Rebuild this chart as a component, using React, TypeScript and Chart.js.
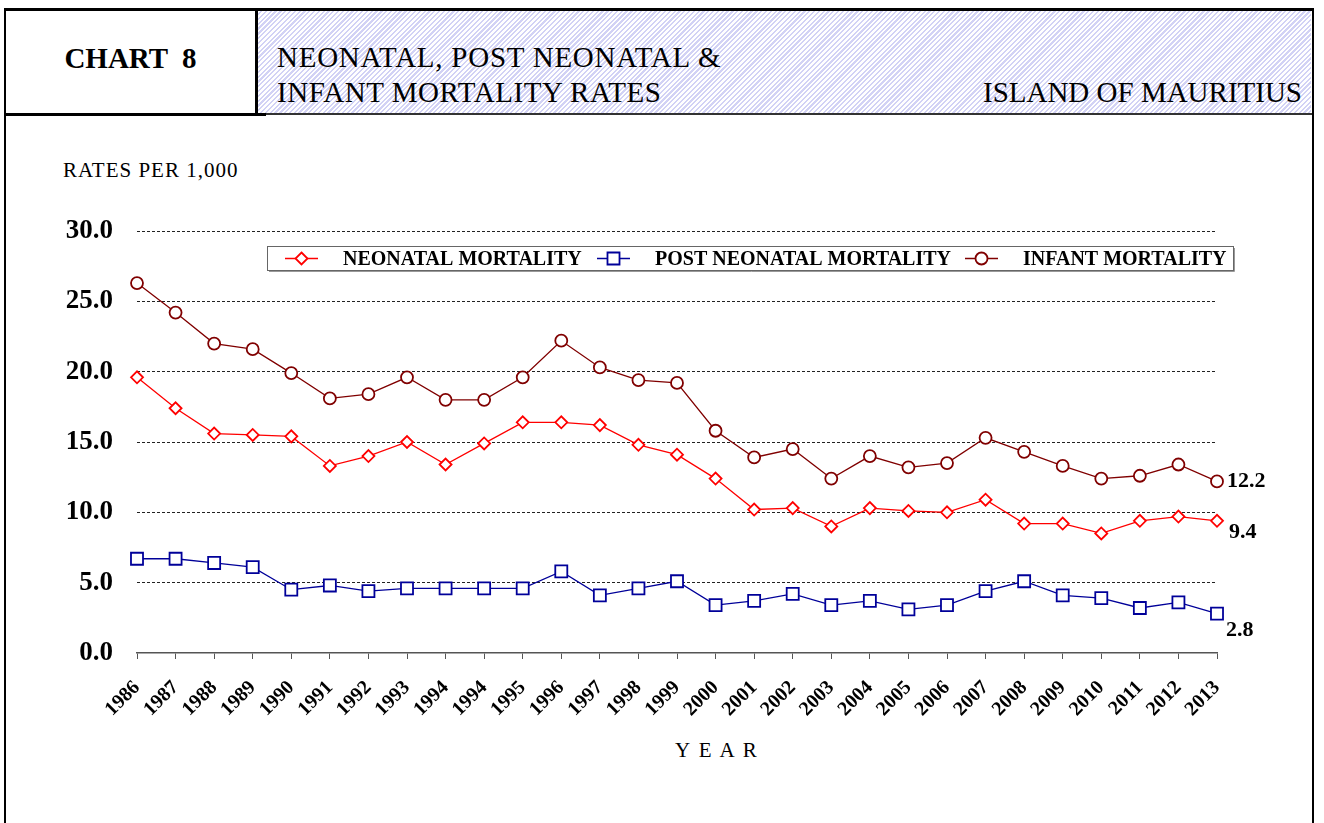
import React, { useEffect, useRef } from 'react';
import { Chart, registerables } from 'chart.js';

Chart.register(...registerables);

const years = [
  '1986', '1987', '1988', '1989', '1990', '1991', '1992', '1993', '1994', '1994',
  '1995', '1996', '1997', '1998', '1999', '2000', '2001', '2002', '2003', '2004',
  '2005', '2006', '2007', '2008', '2009', '2010', '2011', '2012', '2013',
];

const neonatal = [
  19.6, 17.4, 15.6, 15.5, 15.4, 13.3, 14.0, 15.0, 13.4, 14.9,
  16.4, 16.4, 16.2, 14.8, 14.1, 12.4, 10.2, 10.3, 9.0, 10.3,
  10.1, 10.0, 10.9, 9.2, 9.2, 8.5, 9.4, 9.7, 9.4,
];

const postNeonatal = [
  6.7, 6.7, 6.4, 6.1, 4.5, 4.8, 4.4, 4.6, 4.6, 4.6,
  4.6, 5.8, 4.1, 4.6, 5.1, 3.4, 3.7, 4.2, 3.4, 3.7,
  3.1, 3.4, 4.4, 5.1, 4.1, 3.9, 3.2, 3.6, 2.8,
];

const infant = [
  26.3, 24.2, 22.0, 21.6, 19.9, 18.1, 18.4, 19.6, 18.0, 18.0,
  19.6, 22.2, 20.3, 19.4, 19.2, 15.8, 13.9, 14.5, 12.4, 14.0,
  13.2, 13.5, 15.3, 14.3, 13.3, 12.4, 12.6, 13.4, 12.2,
];

const seriesLabels = ['NEONATAL MORTALITY', 'POST NEONATAL MORTALITY', 'INFANT MORTALITY'];
const yMin = 0;
const yMax = 30;
const yStep = 5;

const SERIF = '"Liberation Serif", "Times New Roman", serif';

function drawMarker(ctx: CanvasRenderingContext2D, style: string, x: number, y: number, r: number) {
  ctx.beginPath();
  if (style === 'circle') {
    ctx.arc(x, y, r, 0, Math.PI * 2);
  } else if (style === 'rect') {
    const s = r * Math.SQRT1_2;
    ctx.rect(x - s, y - s, 2 * s, 2 * s);
  } else {
    ctx.moveTo(x, y - r);
    ctx.lineTo(x + r, y);
    ctx.lineTo(x, y + r);
    ctx.lineTo(x - r, y);
    ctx.closePath();
  }
  ctx.fillStyle = '#fff';
  ctx.fill();
  ctx.stroke();
}

const boxLegend = {
  id: 'boxLegend',
  afterDraw(chart: any) {
    const ctx: CanvasRenderingContext2D = chart.ctx;
    const left = 267, right = 1233, top = 130, h = 24;
    const starts = [285, 597, 965];
    ctx.save();
    ctx.fillStyle = '#fff';
    ctx.fillRect(left, top, right - left, h);
    ctx.strokeStyle = '#666';
    ctx.lineWidth = 1;
    ctx.strokeRect(left + 0.5, top + 0.5, right - left, h);
    ctx.strokeStyle = '#999';
    ctx.beginPath();
    ctx.moveTo(left + 2, top + h + 1.5);
    ctx.lineTo(right + 1.5, top + h + 1.5);
    ctx.lineTo(right + 1.5, top + 2);
    ctx.stroke();
    const cy = top + h / 2 + 0.5;
    chart.data.datasets.forEach((ds: any, i: number) => {
      const x0 = starts[i];
      ctx.strokeStyle = ds.borderColor;
      ctx.lineWidth = ds.borderWidth;
      ctx.beginPath();
      ctx.moveTo(x0, cy);
      ctx.lineTo(x0 + 33, cy);
      ctx.stroke();
      ctx.lineWidth = ds.pointBorderWidth;
      drawMarker(ctx, ds.pointStyle, x0 + 16.5, cy, ds.pointRadius);
      ctx.fillStyle = '#000';
      ctx.font = `bold 20px ${SERIF}`;
      ctx.textAlign = 'left';
      ctx.textBaseline = 'middle';
      ctx.fillText(ds.label, x0 + 58, cy + 1);
    });
    ctx.restore();
  },
};

const endLabels = {
  id: 'endLabels',
  afterDatasetsDraw(chart: any) {
    const ctx: CanvasRenderingContext2D = chart.ctx;
    const offsets = [[12, 12], [9, 17], [10, 0]];
    ctx.save();
    ctx.fillStyle = '#000';
    ctx.font = `bold 22px ${SERIF}`;
    ctx.textAlign = 'left';
    ctx.textBaseline = 'middle';
    chart.data.datasets.forEach((ds: any, i: number) => {
      const meta = chart.getDatasetMeta(i);
      const pt = meta.data[meta.data.length - 1];
      const v = ds.data[ds.data.length - 1];
      ctx.fillText(v.toFixed(1), pt.x + offsets[i][0], pt.y + offsets[i][1]);
    });
    ctx.restore();
  },
};

function MortalityChart() {
  const ref = useRef<HTMLCanvasElement | null>(null);
  useEffect(() => {
    if (!ref.current) return;
    const chart = new Chart(ref.current, {
      type: 'line',
      data: {
        labels: years,
        datasets: [
          {
            label: seriesLabels[0],
            data: neonatal,
            borderColor: '#ff0000',
            borderWidth: 1.3,
            pointStyle: 'rectRot',
            pointRadius: 6,
            pointBorderWidth: 1.8,
            pointBackgroundColor: '#fff',
            pointBorderColor: '#ff0000',
            tension: 0,
          },
          {
            label: seriesLabels[1],
            data: postNeonatal,
            borderColor: '#000099',
            borderWidth: 1.3,
            pointStyle: 'rect',
            pointRadius: 8.5,
            pointBorderWidth: 1.8,
            pointBackgroundColor: '#fff',
            pointBorderColor: '#000099',
            tension: 0,
          },
          {
            label: seriesLabels[2],
            data: infant,
            borderColor: '#800000',
            borderWidth: 1.3,
            pointStyle: 'circle',
            pointRadius: 6,
            pointBorderWidth: 1.8,
            pointBackgroundColor: '#fff',
            pointBorderColor: '#800000',
            tension: 0,
          },
        ],
      },
      options: {
        responsive: false,
        animation: false,
        events: [],
        layout: { padding: { left: 0, right: 107, top: 115, bottom: 0 } },
        plugins: {
          legend: { display: false },
          tooltip: { enabled: false },
        },
        scales: {
          x: {
            type: 'category',
            offset: false,
            grid: {
              display: true,
              drawOnChartArea: false,
              drawTicks: true,
              tickLength: 6,
              color: '#555',
              lineWidth: 1,
            },
            border: { display: true, color: '#555', width: 1.5 },
            ticks: {
              autoSkip: false,
              maxRotation: 45,
              minRotation: 45,
              color: '#000',
              padding: 17,
              font: { family: SERIF, size: 20, weight: 'bold' },
            },
            afterFit: (s: any) => {
              s.height = 170;
              s.paddingLeft = 0;
              s.paddingRight = 0;
            },
          },
          y: {
            min: yMin,
            max: yMax,
            ticks: {
              stepSize: yStep,
              color: '#000',
              padding: 24,
              font: { family: SERIF, size: 27, weight: 'bold' },
              callback: (v: any) => Number(v).toFixed(1),
            },
            grid: {
              drawTicks: false,
              color: (c: any) => (c.tick && c.tick.value === 0 ? 'rgba(0,0,0,0)' : '#222'),
              lineWidth: 1,
            },
            border: { display: false, dash: [3, 2] },
            afterFit: (s: any) => {
              s.width = 137;
              s.paddingTop = 0;
              s.paddingBottom = 0;
            },
          },
        },
      },
      plugins: [endLabels, boxLegend],
    } as any);
    return () => chart.destroy();
  }, []);
  return (
    <canvas
      ref={ref}
      width={1324}
      height={707}
      style={{ position: 'absolute', left: 0, top: 116, width: 1324, height: 707 }}
    />
  );
}

function Txt(props: { x: number; baseline: number; size: number; bold?: boolean; right?: boolean; center?: number; spacing?: number; children: any }) {
  const { x, baseline, size, bold, right, center, spacing, children } = props;
  const top = baseline - size * 0.8375;
  const style: any = {
    position: 'absolute',
    top,
    fontSize: size,
    lineHeight: `${size}px`,
    fontWeight: bold ? 'bold' : 'normal',
    whiteSpace: 'pre',
    color: '#000',
    letterSpacing: spacing ? spacing : 0,
  };
  if (right) {
    style.right = 1324 - x;
    style.textAlign = 'right';
  } else if (center !== undefined) {
    style.left = x;
    style.width = center;
    style.textAlign = 'center';
  } else {
    style.left = x;
  }
  return <div style={style}>{children}</div>;
}

export default function App() {
  return (
    <div
      style={{
        position: 'fixed',
        left: 0,
        top: 0,
        width: 1324,
        height: 823,
        background: '#fff',
        overflow: 'hidden',
        fontFamily: SERIF,
      }}
    >
      <div
        style={{
          position: 'absolute',
          left: 258,
          top: 11,
          width: 1053,
          height: 102,
          background: 'repeating-linear-gradient(135deg, #ffffff 0px, #ffffff 1.8px, #d2d2f5 1.8px, #d2d2f5 3.4px)',
        }}
      />
      <div
        style={{
          position: 'absolute',
          left: 4,
          top: 8,
          width: 1310,
          height: 900,
          boxSizing: 'border-box',
          borderLeft: '2px solid #000',
          borderRight: '2px solid #000',
          borderTop: '3px solid #000',
        }}
      />
      <div style={{ position: 'absolute', left: 255, top: 8, width: 3, height: 108, background: '#000' }} />
      <div style={{ position: 'absolute', left: 4, top: 113, width: 262, height: 3, background: '#000' }} />
      <div style={{ position: 'absolute', left: 266, top: 113, width: 1046, height: 2, background: '#333' }} />

      <Txt x={6} baseline={68} size={29} bold center={249}>{'CHART  8'}</Txt>
      <Txt x={277} baseline={67} size={29} spacing={0.75}>{'NEONATAL, POST NEONATAL &'}</Txt>
      <Txt x={277} baseline={102} size={29} spacing={0.55}>{'INFANT MORTALITY RATES'}</Txt>
      <Txt x={1302} baseline={102} size={29} right>{'ISLAND OF MAURITIUS'}</Txt>

      <Txt x={63} baseline={178} size={21} spacing={1}>{'RATES PER 1,000'}</Txt>
      <Txt x={675} baseline={758} size={21} spacing={2}>{'Y E A R'}</Txt>

      <MortalityChart />
    </div>
  );
}
